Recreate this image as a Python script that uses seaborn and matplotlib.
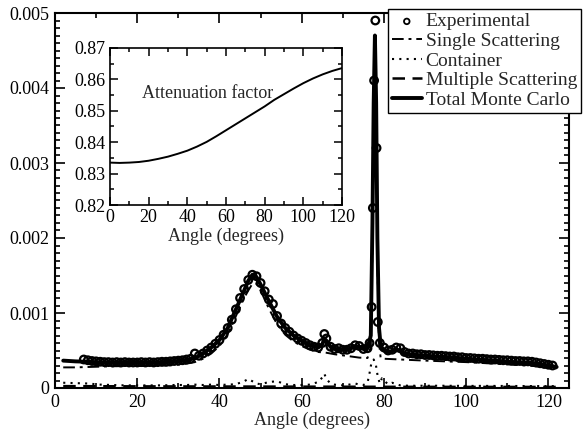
import numpy as np
import pandas as pd
import matplotlib
matplotlib.use("Agg")
import matplotlib.pyplot as plt
from matplotlib.ticker import MultipleLocator
import seaborn as sns

# ---------------- data ----------------
total_angle = [2, 5, 8, 11, 14, 17, 20, 23, 26, 29, 32, 34, 36, 38, 40, 42, 44, 46, 47, 48, 49, 50,
               52, 54, 56, 58, 60, 62, 64, 65, 65.5, 66, 67, 68, 69, 70, 71, 72, 73, 74, 75, 76,
               76.8, 77.2, 77.5, 77.8, 78.1, 78.4, 78.8, 79.2, 80, 81, 82, 83, 84, 85, 86, 88, 90,
               93, 96, 100, 104, 108, 112, 116, 118, 120, 122]
total_mc = [3.65e-4, 3.55e-4, 3.50e-4, 3.42e-4, 3.40e-4, 3.40e-4, 3.40e-4, 3.40e-4, 3.45e-4, 3.55e-4,
            3.75e-4, 3.95e-4, 4.60e-4, 5.40e-4, 6.40e-4, 8.00e-4, 10.5e-4, 13.0e-4, 14.3e-4, 15.1e-4,
            14.8e-4, 13.8e-4, 11.6e-4, 9.50e-4, 8.00e-4, 7.00e-4, 6.30e-4, 5.70e-4, 5.40e-4, 5.80e-4,
            6.60e-4, 6.30e-4, 5.50e-4, 5.20e-4, 5.20e-4, 5.10e-4, 5.10e-4, 5.30e-4, 5.60e-4, 5.50e-4,
            5.20e-4, 5.30e-4, 7.00e-4, 22.0e-4, 38.0e-4, 47.0e-4, 38.0e-4, 20.0e-4, 8.00e-4, 5.60e-4,
            5.00e-4, 4.80e-4, 4.90e-4, 5.20e-4, 4.90e-4, 4.60e-4, 4.50e-4, 4.40e-4, 4.30e-4,
            4.20e-4, 4.10e-4, 3.90e-4, 3.75e-4, 3.60e-4, 3.45e-4, 3.35e-4, 3.20e-4, 3.00e-4, 2.80e-4]

single_angle = [2, 5, 8, 11, 14, 17, 20, 23, 26, 29, 32, 34, 36, 38, 40, 42, 44, 46, 47, 48, 49, 50,
                52, 54, 56, 58, 60, 62, 64, 66, 68, 70, 72, 74, 76, 76.8, 77.2, 77.5, 77.8, 78.1,
                78.4, 78.8, 79.2, 80, 82, 84, 86, 88, 90, 95, 100, 105, 110, 115, 120, 122]
single_scat = [2.75e-4, 2.75e-4, 2.80e-4, 2.85e-4, 2.90e-4, 2.92e-4, 2.95e-4, 2.95e-4, 3.00e-4, 3.05e-4,
               3.25e-4, 3.45e-4, 3.90e-4, 4.60e-4, 5.60e-4, 7.20e-4, 9.60e-4, 12.0e-4, 13.0e-4, 13.9e-4,
               13.9e-4, 13.0e-4, 10.6e-4, 8.50e-4, 7.10e-4, 6.20e-4, 5.60e-4, 5.10e-4, 4.80e-4, 4.70e-4,
               4.50e-4, 4.35e-4, 4.20e-4, 4.05e-4, 4.00e-4, 5.50e-4, 19.0e-4, 34.0e-4, 43.0e-4, 34.0e-4,
               17.0e-4, 6.00e-4, 4.00e-4, 3.90e-4, 3.85e-4, 3.80e-4, 3.75e-4, 3.70e-4, 3.65e-4, 3.55e-4,
               3.45e-4, 3.30e-4, 3.15e-4, 3.00e-4, 2.75e-4, 2.60e-4]

container_angle = [2, 5, 8, 11, 14, 17, 20, 23, 26, 29, 32, 34, 36, 38, 40, 42, 44, 46, 47, 48, 49, 50,
                   52, 54, 56, 58, 60, 62, 64, 65, 65.5, 66, 67, 68, 69, 70, 71, 72, 73, 74, 75, 76,
                   76.5, 77, 77.5, 78, 78.5, 79, 79.5, 80, 81, 82, 83, 84, 86, 90, 95, 100, 105,
                   110, 115, 120, 122]
container = [0.70e-4, 0.65e-4, 0.60e-4, 0.45e-4, 0.40e-4, 0.35e-4, 0.35e-4, 0.35e-4, 0.35e-4, 0.40e-4,
             0.40e-4, 0.45e-4, 0.40e-4, 0.45e-4, 0.40e-4, 0.45e-4, 0.50e-4, 0.90e-4, 1.20e-4, 0.90e-4,
             0.60e-4, 0.50e-4, 0.80e-4, 0.90e-4, 0.50e-4, 0.40e-4, 0.40e-4, 0.45e-4, 0.80e-4, 1.40e-4,
             1.90e-4, 1.20e-4, 0.60e-4, 0.45e-4, 0.40e-4, 0.35e-4, 0.40e-4, 0.50e-4, 0.60e-4, 0.45e-4,
             0.40e-4, 0.70e-4, 2.00e-4, 3.50e-4, 3.80e-4, 3.20e-4, 1.50e-4, 0.60e-4, 1.30e-4, 1.00e-4,
             0.50e-4, 0.70e-4, 0.50e-4, 0.35e-4, 0.30e-4, 0.30e-4, 0.30e-4, 0.28e-4, 0.28e-4,
             0.27e-4, 0.26e-4, 0.25e-4, 0.25e-4]

multiple_angle = [2, 20, 40, 60, 80, 100, 122]
multiple_scat = [0.25e-4, 0.22e-4, 0.20e-4, 0.18e-4, 0.16e-4, 0.15e-4, 0.14e-4]

exp_angle = [7, 8, 9, 10, 11, 12, 13, 14, 15, 16, 17, 18, 19, 20, 21, 22, 23, 24, 25, 26, 27, 28, 29,
             30, 31, 32, 33, 34, 35, 36, 37, 38, 39, 40, 41, 42, 43, 44, 45, 46, 47, 48, 49, 50, 51,
             52, 53, 54, 55, 56, 57, 58, 59, 60, 61, 62, 63, 64, 65, 65.5, 66, 67, 68, 69, 70, 71,
             72, 73, 74, 75, 76, 76.5, 77, 77.3, 77.6, 77.9, 78.2, 78.5, 79, 80, 81, 82, 83, 84, 85,
             86, 87, 88, 89, 90, 91, 92, 93, 94, 95, 96, 97, 98, 99, 100, 101, 102, 103, 104, 105,
             106, 107, 108, 109, 110, 111, 112, 113, 114, 115, 116, 117, 118, 119, 120, 121]
experimental = [3.80e-4, 3.70e-4, 3.60e-4, 3.55e-4, 3.50e-4, 3.45e-4, 3.45e-4, 3.40e-4, 3.45e-4, 3.40e-4,
                3.45e-4, 3.40e-4, 3.40e-4, 3.40e-4, 3.45e-4, 3.40e-4, 3.45e-4, 3.40e-4, 3.45e-4, 3.50e-4,
                3.50e-4, 3.55e-4, 3.60e-4, 3.65e-4, 3.70e-4, 3.80e-4, 3.90e-4, 4.60e-4, 4.30e-4, 4.60e-4,
                5.00e-4, 5.40e-4, 5.90e-4, 6.40e-4, 7.10e-4, 8.00e-4, 9.10e-4, 10.5e-4, 12.0e-4, 13.2e-4,
                14.4e-4, 15.1e-4, 14.9e-4, 14.0e-4, 12.9e-4, 11.8e-4, 11.2e-4, 9.60e-4, 8.60e-4, 8.00e-4,
                7.50e-4, 7.00e-4, 6.60e-4, 6.30e-4, 6.00e-4, 5.70e-4, 5.50e-4, 5.40e-4, 6.00e-4, 7.20e-4,
                6.60e-4, 5.50e-4, 5.20e-4, 5.30e-4, 5.10e-4, 5.10e-4, 5.30e-4, 5.70e-4, 5.60e-4, 5.20e-4,
                5.30e-4, 6.00e-4, 10.8e-4, 24.0e-4, 41.0e-4, 49.0e-4, 32.0e-4, 8.80e-4, 6.00e-4, 5.40e-4,
                5.00e-4, 5.10e-4, 5.40e-4, 5.30e-4, 4.80e-4, 4.60e-4, 4.60e-4, 4.50e-4, 4.50e-4, 4.40e-4,
                4.40e-4, 4.35e-4, 4.30e-4, 4.30e-4, 4.25e-4, 4.20e-4, 4.20e-4, 4.10e-4, 4.10e-4, 4.00e-4,
                4.00e-4, 3.95e-4, 3.90e-4, 3.90e-4, 3.85e-4, 3.80e-4, 3.80e-4, 3.75e-4, 3.70e-4, 3.70e-4,
                3.65e-4, 3.60e-4, 3.60e-4, 3.55e-4, 3.55e-4, 3.50e-4, 3.40e-4, 3.30e-4, 3.20e-4, 3.10e-4,
                3.00e-4]

atten_angle = [0, 5, 10, 15, 20, 25, 30, 35, 40, 45, 50, 55, 60, 65, 70, 75, 80, 85, 90, 95, 100,
               105, 110, 115, 120]
atten_factor = [0.8335, 0.8334, 0.8335, 0.8337, 0.8341, 0.8347, 0.8354, 0.8363, 0.8373, 0.8386,
                0.8401, 0.8419, 0.8438, 0.8457, 0.8476, 0.8495, 0.8514, 0.8535, 0.8553, 0.8571,
                0.8588, 0.8603, 0.8616, 0.8627, 0.8636]

# ---------------- style ----------------
sns.set_theme(style="ticks")
plt.rcParams["font.family"] = ["Liberation Serif", "DejaVu Serif"]

fig = plt.figure(figsize=(5.84, 4.34), dpi=100)
ax = fig.add_axes([55 / 584, 46 / 434, 514 / 584, 375 / 434])

df_exp = pd.DataFrame({"angle": exp_angle, "val": experimental})
df_single = pd.DataFrame({"angle": single_angle, "val": single_scat})
df_cont = pd.DataFrame({"angle": container_angle, "val": container})
df_mult = pd.DataFrame({"angle": multiple_angle, "val": multiple_scat})
df_total = pd.DataFrame({"angle": total_angle, "val": total_mc})

sns.lineplot(data=df_single, x="angle", y="val", ax=ax, color="black", lw=1.4,
             linestyle=(0, (6, 2.5, 1.5, 2.5)), estimator=None, sort=False, label="Single Scattering")
sns.lineplot(data=df_cont, x="angle", y="val", ax=ax, color="black", lw=1.5,
             linestyle=(0, (1, 2.5)), estimator=None, sort=False, label="Container")
sns.lineplot(data=df_mult, x="angle", y="val", ax=ax, color="black", lw=1.8,
             linestyle=(0, (5, 3)), estimator=None, sort=False, label="Multiple Scattering")
sns.lineplot(data=df_total, x="angle", y="val", ax=ax, color="black", lw=2.8,
             linestyle="-", estimator=None, sort=False, label="Total Monte Carlo")
sns.scatterplot(data=df_exp, x="angle", y="val", ax=ax, marker="o", s=30,
                facecolor="none", edgecolor="black", linewidth=1.6, label="Experimental", zorder=3)

ax.set_xlim(0, 125)
ax.set_ylim(0, 0.005)
ax.xaxis.set_major_locator(MultipleLocator(20))
ax.xaxis.set_minor_locator(MultipleLocator(10))
ax.yaxis.set_major_locator(MultipleLocator(0.001))
ax.yaxis.set_minor_locator(MultipleLocator(0.0001))
ax.set_yticks([0, 0.001, 0.002, 0.003, 0.004, 0.005])
ax.set_yticklabels(["0", "0.001", "0.002", "0.003", "0.004", "0.005"])
ax.tick_params(which="both", direction="in", top=True, right=True, colors="black",
               labelsize=13, width=1.2)
ax.tick_params(which="major", length=7, pad=4)
ax.tick_params(which="minor", length=3.5)
for s in ax.spines.values():
    s.set_linewidth(1.5)
    s.set_color("black")
ax.set_xlabel("Angle (degrees)", fontsize=13, labelpad=1)
ax.set_ylabel("")

handles, labels = ax.get_legend_handles_labels()
order = ["Experimental", "Single Scattering", "Container", "Multiple Scattering", "Total Monte Carlo"]
hmap = dict(zip(labels, handles))
leg = ax.legend([hmap[k] for k in order], order, loc="upper right",
                bbox_to_anchor=(581 / 584, 1 - 9 / 434), bbox_transform=fig.transFigure,
                fontsize=14, frameon=True, fancybox=False, framealpha=1, edgecolor="black",
                handlelength=1.55, handletextpad=0.2, labelspacing=0.1, borderpad=0.2,
                borderaxespad=0, scatterpoints=1)
leg.get_frame().set_linewidth(1.0)
leg.set_zorder(10)
for h in leg.legend_handles:
    if hasattr(h, "set_sizes"):
        h.set_sizes([16])
        h.set_linewidth(1.3)

# ---------------- inset ----------------
ins = fig.add_axes([110 / 584, (434 - 205) / 434, 232 / 584, 157 / 434])
df_att = pd.DataFrame({"angle": atten_angle, "val": atten_factor})
sns.lineplot(data=df_att, x="angle", y="val", ax=ins, color="black", lw=1.4,
             estimator=None, sort=False)
ins.set_xlim(0, 120)
ins.set_ylim(0.82, 0.87)
ins.xaxis.set_major_locator(MultipleLocator(20))
ins.xaxis.set_minor_locator(MultipleLocator(10))
ins.yaxis.set_major_locator(MultipleLocator(0.01))
ins.yaxis.set_minor_locator(MultipleLocator(0.005))
ins.set_yticks([0.82, 0.83, 0.84, 0.85, 0.86, 0.87])
ins.set_yticklabels(["0.82", "0.83", "0.84", "0.85", "0.86", "0.87"])
ins.tick_params(which="both", direction="in", top=True, right=True, colors="black",
                labelsize=13, width=1.1)
ins.tick_params(which="major", length=6, pad=3)
ins.tick_params(which="minor", length=3)
for s in ins.spines.values():
    s.set_linewidth(1.2)
    s.set_color("black")
ins.set_xlabel("Angle (degrees)", fontsize=13, labelpad=1)
ins.set_ylabel("")
ins.text(16.5, 0.8556, "Attenuation factor", fontsize=13, va="center", ha="left")

fig.savefig("out.png", dpi=100)
